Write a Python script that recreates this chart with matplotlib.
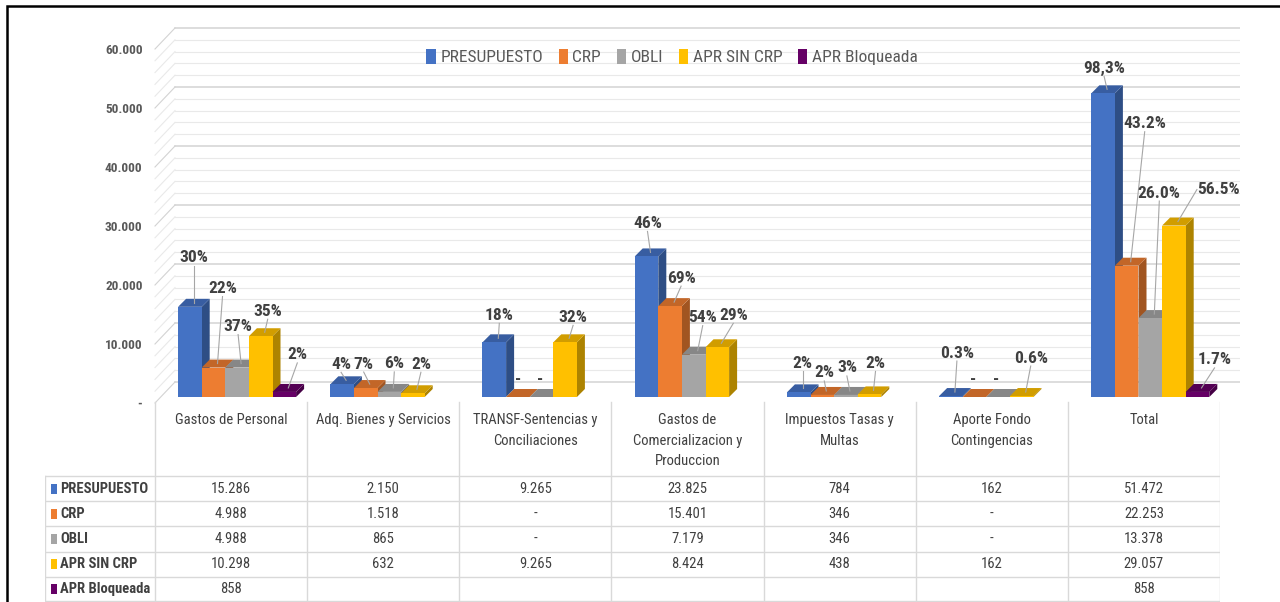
import numpy as np
import matplotlib.pyplot as plt
import matplotlib.font_manager as fm
from matplotlib.patches import Rectangle, Polygon, Patch
from matplotlib.colors import to_rgb

categorias = ["Gastos de Personal", "Adq. Bienes y Servicios", "TRANSF-Sentencias y\nConciliaciones",
              "Gastos de\nComercializacion y\nProduccion", "Impuestos Tasas y\nMultas",
              "Aporte Fondo\nContingencias", "Total"]
series = ["PRESUPUESTO", "CRP", "OBLI", "APR SIN CRP", "APR Bloqueada"]
presupuesto = [15286, 2150, 9265, 23825, 784, 162, 51472]
crp = [4988, 1518, 0, 15401, 346, 0, 22253]
obli = [4988, 865, 0, 7179, 346, 0, 13378]
apr_sin_crp = [10298, 632, 9265, 8424, 438, 162, 29057]
apr_bloqueada = [858, None, None, None, None, None, 858]

pct_presupuesto = ["30%", "4%", "18%", "46%", "2%", "0.3%", "98,3%"]
pct_crp = ["22%", "7%", "-", "69%", "2%", "-", "43.2%"]
pct_obli = ["37%", "6%", "-", "54%", "3%", "-", "26.0%"]
pct_apr = ["35%", "2%", "32%", "29%", "2%", "0.6%", "56.5%"]
pct_bloq = ["2%", None, None, None, None, None, "1.7%"]

valores = [presupuesto, crp, obli, apr_sin_crp, apr_bloqueada]
pcts = [pct_presupuesto, pct_crp, pct_obli, pct_apr, pct_bloq]
colores = ["#4472C4", "#ED7D31", "#A5A5A5", "#FFC000", "#660066"]

# label offsets in pixels from the bar top (dx right, dy down)
lbl_off = [
    [(0, -45), (-5, -16), (1, -23), (-3, -29), (0, -25), (2, -39), (-3, -21)],
    [(5, -75), (-6, -20), (-4, -13), (7, -24), (-2, -18), (-5, -13), (14, -138)],
    [(-3, -37), (1, -24), (-5, -13), (5, -33), (-3, -23), (-6, -13), (5, -121)],
    [(3, -21), (4, -25), (4, -21), (12, -28), (2, -27), (5, -34), (41, -32)],
    [(9, -33), None, None, None, None, None, (13, -28)],
]


# pick a narrow font (the original uses Arial Narrow / Calibri look)
def _narrow_files():
    prefs = ["Liberation Sans Narrow", "Roboto Condensed", "Open Sans Condensed", "DejaVu Sans",
             "Noto Sans", "Open Sans", "Roboto", "Lato", "Inter"]
    found = {}
    for name in prefs:
        for f in fm.fontManager.ttflist:
            if f.name != name or f.style != "normal":
                continue
            tag = (f.name + " " + f.fname).lower()
            cond = ("narrow" in tag or "condensed" in tag or
                    str(f.stretch) in ("condensed", "semi-condensed", "extra-condensed", "ultra-condensed"))
            if not cond:
                continue
            w = f.weight
            if isinstance(w, str):
                w = fm.weight_dict.get(w, 400)
            key = "bold" if w >= 600 else "normal"
            if w in (400, 700) or key not in found:
                found.setdefault(key, f.fname)
        if found:
            return found
    return {}


NARROW = _narrow_files()
SCALE = 1.0 if NARROW else 0.86


def fp(size, bold=False):
    if NARROW:
        f = NARROW.get("bold" if bold else "normal") or NARROW.get("normal") or NARROW.get("bold")
        p = fm.FontProperties(fname=f, size=size)
        return p
    return fm.FontProperties(family="Liberation Sans", size=size * SCALE,
                             weight="bold" if bold else "normal")


TXT = "#404040"
GRAY = "#595959"

S = 152.2            # px per category
UY = 10000 / 59.0    # value per px
W = 23.6 / S         # bar width

fig = plt.figure(figsize=(12.8, 6.02), dpi=100)
ax = fig.add_axes([155 / 1280, (602 - 403) / 602, 1085 / 1280, 397 / 602])
ax.set_xlim(-0.5, -0.5 + 1085 / S)
ax.set_ylim(0, 397 * UY)
for s in ax.spines.values():
    s.set_visible(False)
ax.set_xticks([])
ticks = list(range(0, 60001, 10000))
ax.set_yticks(ticks)
ax.set_yticklabels(["-" if t == 0 else f"{t:,}".replace(",", ".") for t in ticks],
                   fontproperties=fp(9.5, True), color=GRAY)
ax.tick_params(length=0, pad=9)

# back wall + side wall grid
xr = -0.5 + 1085 / S
for v in range(0, 60001, 2000):
    major = v % 10000 == 0
    c = "#d3d3d3" if major else "#e9e9e9"
    ax.plot([-0.5 + 20 / S, xr], [v + 21 * UY, v + 21 * UY], color=c, lw=1.1 if major else 0.8, zorder=0)
    ax.plot([-0.5, -0.5 + 20 / S], [v, v + 21 * UY], color=c, lw=0.8, zorder=0, clip_on=False)


def shade(c, f):
    r, g, b = to_rgb(c)
    return (r * f, g * f, b * f)


base = 6 * UY
dx, dy = 8 / S, 8 * UY
z = 2
for i in range(len(categorias)):
    for k in range(len(series)):
        v = valores[k][i]
        if v is None:
            continue
        x0 = i - 2.5 * W + k * W + 6 / S
        top = base + v
        col = colores[k]
        ax.add_patch(Polygon([(x0 + W, base), (x0 + W + dx, base + dy), (x0 + W + dx, top + dy), (x0 + W, top)],
                             closed=True, facecolor=shade(col, 0.68), edgecolor="none", zorder=z))
        ax.add_patch(Polygon([(x0, top), (x0 + W, top), (x0 + W + dx, top + dy), (x0 + dx, top + dy)],
                             closed=True, facecolor=shade(col, 0.82), edgecolor="none", zorder=z + 1))
        if v > 0:
            ax.add_patch(Rectangle((x0, base), W, v, facecolor=col, edgecolor="none", zorder=z + 2))
        z += 3

# data labels with leader lines
for k in range(len(series)):
    for i in range(len(categorias)):
        v = valores[k][i]
        if v is None or pcts[k][i] is None:
            continue
        x0 = i - 2.5 * W + k * W + 6 / S
        ax_ = x0 + W / 2 + 4 / S
        ay_ = base + v + 4 * UY
        ox, oy = lbl_off[k][i]
        lx, ly = ax_ + ox / S, ay_ - oy * UY
        ax.text(lx, ly, pcts[k][i], ha="center", va="center", fontproperties=fp(12.5, True),
                color=TXT, zorder=100)
        if np.hypot(ox, oy) > 16:
            if abs(ox) > abs(oy):
                sx, sy = lx - 22 / S * np.sign(ox), ly
            else:
                sx, sy = lx, ly - 8 * UY
            ax.plot([sx, ax_], [sy, ay_], color="#a6a6a6", lw=0.8, zorder=99)

# legend
handles = [Patch(facecolor=c, edgecolor="none") for c in colores]
fig.legend(handles, series, loc="center", bbox_to_anchor=(672 / 1280, 1 - 57 / 602), ncol=5,
           frameon=False, handlelength=0.55, handleheight=1.0, handletextpad=0.25, columnspacing=0.9,
           prop=fp(12.5), labelcolor=GRAY)

# data table
tx = fig.add_axes([45 / 1280, 0, 1175 / 1280, 202 / 602])
tx.set_xlim(-0.5 - 110 / S, 6.5)
tx.set_ylim(602, 400)
tx.axis("off")
LC = "#d9d9d9"
hdr_bot = 476
rh = 25.2
for i in range(len(categorias) + 1):
    tx.plot([i - 0.5, i - 0.5], [402, 602], color=LC, lw=1)
tx.plot([-0.5 - 110 / S] * 2, [hdr_bot, 602], color=LC, lw=1)
for r in range(len(series)):
    y = hdr_bot + r * rh
    tx.plot([-0.5 - 110 / S, 6.5], [y, y], color=LC, lw=1)
tx.plot([-0.5 - 110 / S, 6.5], [601, 601], color=LC, lw=1)

for i, cat in enumerate(categorias):
    tx.text(i, 413, cat, ha="center", va="top", fontproperties=fp(10.5), color=TXT, linespacing=1.6)

for k, name in enumerate(series):
    yc = hdr_bot + (k + 0.5) * rh
    tx.add_patch(Rectangle((-0.5 - 104 / S, yc - 5), 6 / S, 10, facecolor=colores[k], edgecolor="none"))
    tx.text(-0.5 - 95 / S, yc, name, ha="left", va="center", fontproperties=fp(10.5, True), color=TXT)
    for i in range(len(categorias)):
        v = valores[k][i]
        if v is None:
            continue
        s = "-" if v == 0 else f"{v:,}".replace(",", ".")
        tx.text(i, yc, s, ha="center", va="center", fontproperties=fp(10.5), color=TXT)

# outer frame
fig.patches.append(Rectangle((7 / 1280, -0.05), 1.2, 1 - 6 / 602 + 0.05, transform=fig.transFigure,
                             fill=False, edgecolor="black", lw=1.8))

fig.savefig("out.png", dpi=100)
